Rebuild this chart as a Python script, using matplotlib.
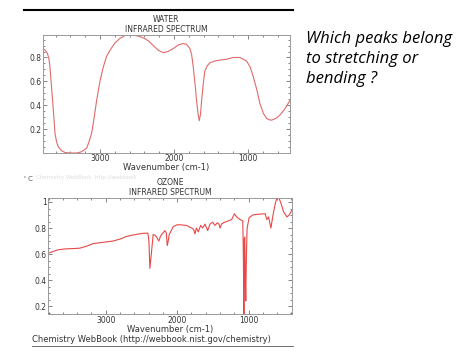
import numpy as np
import matplotlib.pyplot as plt
from matplotlib.ticker import AutoMinorLocator

# water spectrum
water_wn = [3770, 3740, 3710, 3690, 3676, 3658, 3640, 3622, 3608, 3585, 3563, 3520, 3473,
            3400, 3315, 3250, 3180, 3150, 3113, 3080, 3045, 3000, 2955, 2910, 2865, 2800,
            2730, 2660, 2595, 2530, 2460, 2400, 2347, 2280, 2210, 2144, 2080, 2009, 1940,
            1874, 1830, 1784, 1760, 1739, 1715, 1694, 1675, 1658, 1640, 1626, 1600, 1581,
            1550, 1514, 1450, 1378, 1290, 1198, 1110, 1018, 970, 928, 880, 838, 790, 748,
            710, 680, 620, 568, 500, 432]
water_t = [0.875, 0.86, 0.834, 0.79, 0.72, 0.58, 0.44, 0.29, 0.164, 0.09, 0.052, 0.02, 0.004,
           0.0, 0.0, 0.01, 0.04, 0.09, 0.164, 0.29, 0.44, 0.60, 0.72, 0.81, 0.86, 0.92,
           0.96, 0.985, 0.99, 0.985, 0.975, 0.96, 0.94, 0.90, 0.86, 0.84, 0.85, 0.875, 0.905,
           0.917, 0.91, 0.875, 0.82, 0.72, 0.58, 0.44, 0.33, 0.27, 0.33, 0.44, 0.60, 0.69,
           0.73, 0.755, 0.77, 0.778, 0.785, 0.80, 0.80, 0.77, 0.72, 0.64, 0.53, 0.415, 0.33, 0.29,
           0.278, 0.275, 0.29, 0.317, 0.37, 0.44]

# ozone spectrum
ozone_wn = [3810, 3760, 3710, 3670, 3620, 3553, 3460, 3365, 3270, 3178, 3040, 2897, 2800,
            2710, 2620, 2522, 2460, 2410, 2395, 2382, 2365, 2336, 2310, 2288, 2256, 2235,
            2218, 2171, 2150, 2139, 2125, 2111, 2055, 2000, 1961, 1868, 1797, 1770, 1750,
            1730, 1704, 1671, 1643, 1610, 1573, 1540, 1503, 1470, 1437, 1415, 1399, 1380,
            1353, 1283, 1236, 1198, 1166, 1119, 1081, 1073, 1065, 1059, 1053, 1046, 1039,
            1030, 1020, 992, 940, 884, 767, 744, 720, 687, 659, 627, 600, 580, 540, 510, 463,
            430, 392]
ozone_t = [0.606, 0.615, 0.625, 0.632, 0.636, 0.64, 0.642, 0.645, 0.66, 0.68, 0.69, 0.70, 0.715,
           0.735, 0.746, 0.756, 0.76, 0.76, 0.70, 0.49, 0.58, 0.75, 0.745, 0.73, 0.70, 0.735,
           0.75, 0.78, 0.76, 0.665, 0.70, 0.75, 0.81, 0.825, 0.825, 0.82, 0.80, 0.79, 0.755,
           0.80, 0.77, 0.82, 0.80, 0.83, 0.78, 0.83, 0.845, 0.82, 0.84, 0.83, 0.80, 0.83,
           0.84, 0.855, 0.865, 0.91, 0.885, 0.865, 0.855, 0.60, 0.12, 0.72, 0.73, 0.40, 0.24,
           0.60, 0.80, 0.88, 0.90, 0.905, 0.91, 0.865, 0.885, 0.80, 0.895, 0.985, 1.04, 1.04,
           0.98, 0.925, 0.885, 0.90, 0.94]

xticks = [3000, 2000, 1000]
grey = '#555555'


def spectrum(ax, wn, t, name, ylim, yticks, color):
    ax.plot(wn, t, color=color, lw=0.8)
    ax.set_xlim(wn[0], wn[-1])
    ax.set_ylim(*ylim)
    ax.set_xticks(xticks)
    ax.set_yticks(yticks)
    ax.set_yticklabels([f'{v:g}' for v in yticks])
    ax.xaxis.set_minor_locator(AutoMinorLocator(5))
    ax.yaxis.set_minor_locator(AutoMinorLocator(4))
    ax.tick_params(which='both', direction='in', top=True, right=True,
                   labelsize=5.5, colors=grey, labelcolor='#333333', pad=1)
    ax.tick_params(which='major', length=3, width=0.5)
    ax.tick_params(which='minor', length=1.5, width=0.5)
    for s in ax.spines.values():
        s.set_color('#999999')
        s.set_linewidth(0.7)
    ax.set_xlabel('Wavenumber (cm-1)', fontsize=6, color='#333333', labelpad=0)
    ax.set_title(name + '\nINFRARED SPECTRUM', fontsize=5.5, color='#333333',
                 pad=2, linespacing=1.25)


fig = plt.figure(figsize=(4.74, 3.55), dpi=100)

ax1 = fig.add_axes([0.0907, 0.569, 0.521, 0.332])
spectrum(ax1, water_wn, water_t, 'WATER', (0.0, 0.987), [0.2, 0.4, 0.6, 0.8], '#e06a6a')

ax2 = fig.add_axes([0.101, 0.115, 0.515, 0.327])
spectrum(ax2, ozone_wn, ozone_t, 'OZONE', (0.138, 1.03), [0.2, 0.4, 0.6, 0.8, 1.0], '#e84848')

# slide decorations
fig.add_artist(plt.Line2D([24 / 474, 293 / 474], [1 - 10 / 355] * 2, color='black', lw=1.5))
fig.add_artist(plt.Line2D([32 / 474, 293 / 474], [1 - 346 / 355] * 2, color='#555555', lw=0.6))
fig.text(32 / 474, 1 - 340 / 355, 'Chemistry WebBook (http://webbook.nist.gov/chemistry)',
         fontsize=6, color='#333333', va='center')
fig.text(24 / 474, 1 - 179 / 355, "' C", fontsize=5, color='#555555', va='center')
fig.text(36 / 474, 1 - 177 / 355, 'Chemistry WebBook  http://webbook',
         fontsize=4, color='#dddddd', va='center')

fig.text(306 / 474, 1 - 31 / 355, 'Which peaks belong\nto stretching or\nbending ?',
         fontsize=12, style='italic', family=['Open Sans', 'DejaVu Sans'],
         va='top', ha='left', linespacing=1.33)

fig.savefig('out.png', dpi=100)
